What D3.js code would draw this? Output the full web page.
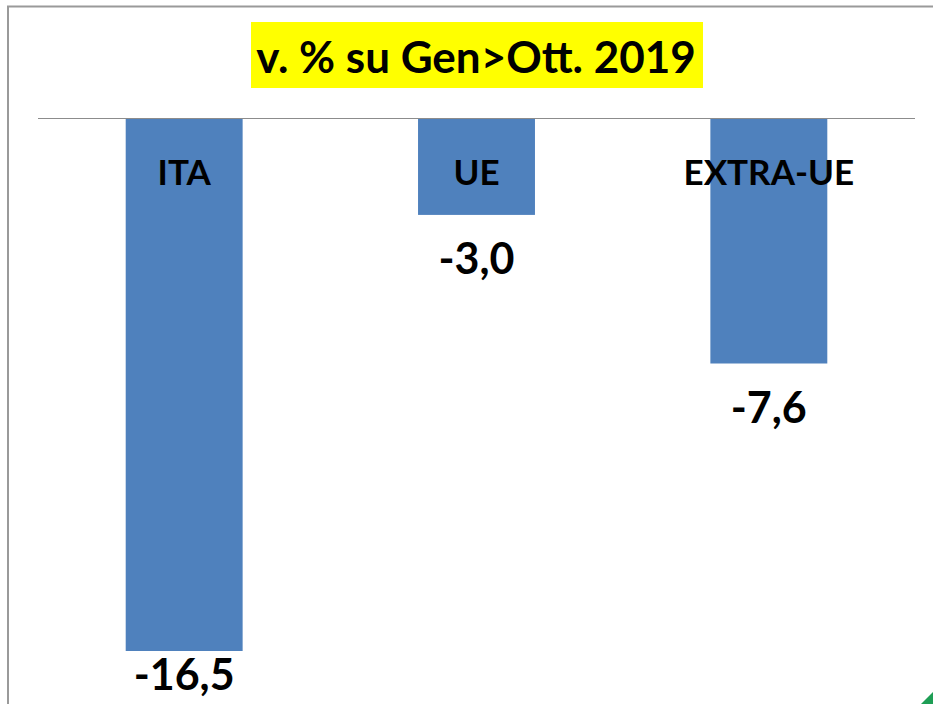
<html>
<head>
  <meta charset="utf-8" />
  <script src="https://d3js.org/d3.v7.min.js"></script>
</head>
<body style="margin: 0; background: white">
<script>

var categories = ['ITA', 'UE', 'EXTRA-UE']
var values = [-16.5, -3.0, -7.6]
var titleText = 'v. % su Gen>Ott. 2019'

var width = 933, height = 704
var font = 'Lato, "Open Sans", sans-serif'

var svg = d3.select("body").append("svg")
            .attr("width", width)
            .attr("height", height)

// slide frame
svg.append("path")
   .attr("d", "M8,704 L8,6.5 L933,6.5")
   .attr("fill", "none")
   .attr("stroke", "#9a9a9a")
   .attr("stroke-width", 2)

// little green corner
svg.append("path")
   .attr("d", "M921,704 L933,692 L933,704 Z")
   .attr("fill", "#1e9e55")

var x = d3.scaleBand()
          .domain(categories)
          .range([38, 915])
          .paddingInner(0.6)
          .paddingOuter(0.3)

var y = d3.scaleLinear()
          .domain([0, -16.5])
          .range([118, 651])

svg.selectAll(".bar")
   .data(values)
   .enter().append("rect")
   .attr("class", "bar")
   .attr("x", function(d, i) { return x(categories[i]) })
   .attr("y", y(0))
   .attr("width", x.bandwidth())
   .attr("height", function(d) { return y(d) - y(0) })
   .attr("fill", "#4f81bd")

// zero line
svg.append("line")
   .attr("x1", 38).attr("x2", 915)
   .attr("y1", y(0) + 0.5).attr("y2", y(0) + 0.5)
   .attr("stroke", "#8c8c8c")
   .attr("stroke-width", 1)

// category labels inside bars
svg.selectAll(".cat")
   .data(categories)
   .enter().append("text")
   .attr("class", "cat")
   .attr("x", function(d) { return x(d) + x.bandwidth() / 2 })
   .attr("y", 185)
   .attr("text-anchor", "middle")
   .style("font-family", font)
   .style("font-weight", "bold")
   .style("font-size", "35px")
   .text(function(d) { return d })

// value labels under bars
svg.selectAll(".val")
   .data(values)
   .enter().append("text")
   .attr("class", "val")
   .attr("x", function(d, i) { return x(categories[i]) + x.bandwidth() / 2 })
   .attr("y", function(d) { return Math.min(y(d) + 59, 690) })
   .attr("text-anchor", "middle")
   .style("font-family", font)
   .style("font-weight", "bold")
   .style("font-size", "43px")
   .text(function(d) { return d3.format(".1f")(d).replace('.', ',').replace('−', '-') })

// title with yellow box
svg.append("rect")
   .attr("x", 251).attr("y", 22)
   .attr("width", 452).attr("height", 66)
   .attr("fill", "#ffff00")

svg.append("text")
   .attr("x", 476)
   .attr("y", 73)
   .attr("text-anchor", "middle")
   .style("font-family", font)
   .style("font-weight", "bold")
   .style("font-size", "44px")
   .text(titleText)

</script>
</body>
</html>
